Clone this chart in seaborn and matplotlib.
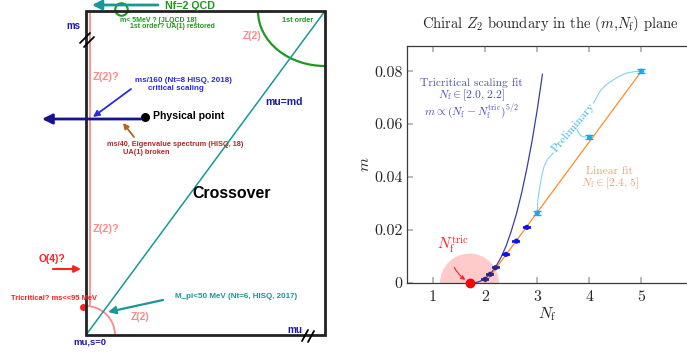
import matplotlib
matplotlib.use("Agg")
import matplotlib.pyplot as plt
import seaborn as sns
from matplotlib.patches import Rectangle, Arc

# ---- data (right panel) ----
nf_tric = 1.7

# tricritical scaling fit
fit_nf = [1.7, 1.8, 1.9, 2.0, 2.1, 2.2, 2.3, 2.4, 2.5, 2.6, 2.7, 2.8, 2.9, 3.0, 3.1]
fit_m = [0.0, 0.0001, 0.0006, 0.0017, 0.0034, 0.0060, 0.0095, 0.0139, 0.0195,
         0.0261, 0.0340, 0.0432, 0.0536, 0.0655, 0.0789]

# linear fit
lin_nf = [2.0, 5.0]
lin_m = [0.0, 0.080]

# simulation points
tric_nf = [2.0, 2.1, 2.2]
tric_m = [0.0014, 0.0033, 0.0058]
mid_nf = [2.4, 2.6, 2.8]
mid_m = [0.0108, 0.0158, 0.0210]
prel_nf = [3.0, 4.0, 5.0]
prel_m = [0.0264, 0.0550, 0.0800]
prel_err = [0.0008, 0.0008, 0.0008]

# "Preliminary" guide curve (two pieces around the label)
guide1_nf = [3.0, 3.01, 3.04, 3.08, 3.13, 3.20, 3.31]
guide1_m = [0.0264, 0.0310, 0.0352, 0.0400, 0.0440, 0.0468, 0.0492]
guide2_nf = [4.08, 4.15, 4.22, 4.33, 4.45, 4.58, 4.70, 4.85, 4.99]
guide2_m = [0.0679, 0.0706, 0.0728, 0.0750, 0.0766, 0.0781, 0.0792, 0.0798, 0.0800]
hook_nf = [3.76, 3.79, 3.83, 3.88, 3.93]
hook_m = [0.0580, 0.0568, 0.0557, 0.0552, 0.0551]

xticks = [1, 2, 3, 4, 5]
yticks = [0, 0.02, 0.04, 0.06, 0.08]
ytick_labels = ["0", "0.02", "0.04", "0.06", "0.08"]

sns.set_theme(style="ticks")
plt.rcParams["font.family"] = ["cmr10"]
plt.rcParams["mathtext.fontset"] = "cm"
plt.rcParams["axes.unicode_minus"] = False

fig = plt.figure(figsize=(6.87, 3.54), dpi=100)

# ================= left panel: schematic =================
axL = fig.add_axes([0, 0, 340 / 687, 1])
axL.set_xlim(0, 340)
axL.set_ylim(354, 0)
axL.axis("off")

SANS = "Liberation Sans"
teal = "#169898"
pink = "#ff8a8a"
green = "#1c9a1c"
navy = "#1c1c9c"
blue = "#2a2ae0"
red = "#ff2020"

axL.add_patch(Rectangle((86, 11), 239, 324, fill=False, lw=2, ec="#222222", zorder=3))
axL.plot([86, 325], [335, 11], color=teal, lw=1.1)
axL.plot([90, 90], [11, 305], color=pink, lw=1.3)
axL.add_patch(Arc((86, 335), 58, 58, theta1=-90, theta2=0, color=pink, lw=1.3))
axL.add_patch(Arc((325, 11), 134, 110, theta1=90, theta2=180, color=green, lw=1.6))

# axis breaks
for x0, y0 in [(80, 43), (84, 47)]:
    axL.plot([x0, x0 + 10], [y0, y0 - 10], color="black", lw=1.3, zorder=4)
for x0, y0 in [(302, 341), (308, 342)]:
    axL.plot([x0, x0 + 6], [y0, y0 - 11], color="black", lw=1.3, zorder=4)


def arrow(x0, y0, x1, y1, color, lw, ms):
    axL.annotate("", xy=(x1, y1), xytext=(x0, y0),
                 arrowprops=dict(arrowstyle="-|>", color=color, lw=lw,
                                 mutation_scale=ms, shrinkA=0, shrinkB=0))


arrow(158, 5, 92, 5, teal, 2.0, 14)
arrow(131, 89, 93, 117, blue, 1.3, 9)
arrow(141, 119, 42, 119, "#14148c", 2.0, 15)
arrow(134, 137, 123, 123, "#b4641e", 1.3, 8)
arrow(53, 269, 81, 269, red, 1.5, 10)
arrow(163, 300, 108, 312, teal, 1.6, 11)

axL.plot(145, 117, "o", color="black", ms=5.5)
axL.plot(121, 9, "o", mfc="none", mec=green, mew=1.5, ms=9, clip_on=False)
axL.plot(83, 307, "o", color=red, ms=4)


def label(x, y, s, size, color, ha="center"):
    axL.text(x, y, s, fontsize=size, color=color, ha=ha, va="center",
             family=SANS, fontweight="bold", fontstyle="normal")


label(165, 6, "Nf=2 QCD", 7.7, green, ha="left")
label(120, 20, "m< 5MeV ? [JLQCD 18]", 5, green, ha="left")
label(130, 26.5, "1st order? UA(1) restored", 5, green, ha="left")
label(298, 21, "1st order", 5.2, green)
label(252, 36, "Z(2)", 7.5, pink)
label(73, 26, "ms", 7, navy)
label(106, 77, "Z(2)?", 7.8, pink)
label(135, 80, "ms/160 (Nt=8 HISQ, 2018)", 5.8, blue, ha="left")
label(148, 88, "critical scaling", 5.8, blue, ha="left")
label(153, 116, "Physical point", 7.6, "black", ha="left")
label(284, 102, "mu=md", 7.6, navy)
label(107, 145, "ms/40, Eigenvalue spectrum (HISQ, 18)", 5.3, "#b42828", ha="left")
label(123, 153, "UA(1) broken", 5.3, "#b42828", ha="left")
label(232, 194, "Crossover", 11.4, "black")
label(106, 229, "Z(2)?", 7.8, pink)
label(52, 259, "O(4)?", 7.4, red)
label(11, 298, "Tricritical? ms<<95 MeV", 5.4, red, ha="left")
label(175, 296, "M_pi<50 MeV (Nt=6, HISQ, 2017)", 5.8, teal, ha="left")
label(140, 317, "Z(2)", 7.5, pink)
label(295, 330, "mu", 7.2, navy)
label(90, 342, "mu,s=0", 6.8, navy)

# ================= right panel: Z2 boundary =================
ax = fig.add_axes([407 / 687, 71 / 354, 280 / 687 + 0.002, 237 / 354])

fit_col = "#3c3ca2"
orange = "#ff8c28"
cyan = "#18aae8"

# red shaded region around tricritical point
ax.scatter([nf_tric], [0], s=1800, color="#ffcaca", edgecolor="none", zorder=1)

sns.lineplot(x=fit_nf, y=fit_m, ax=ax, color=fit_col, lw=0.9, zorder=3)
sns.lineplot(x=lin_nf, y=lin_m, ax=ax, color=orange, lw=0.9, zorder=3)
for gx, gy in [(guide1_nf, guide1_m), (guide2_nf, guide2_m), (hook_nf, hook_m)]:
    sns.lineplot(x=gx, y=gy, ax=ax, color="#80d2f2", lw=0.8, zorder=2)

ax.errorbar(tric_nf, tric_m, yerr=0.0002, fmt="none", ecolor="#28288c",
            capsize=3, capthick=1.2, elinewidth=0.8, zorder=4)
sns.scatterplot(x=tric_nf, y=tric_m, ax=ax, color="#28288c", s=14,
                edgecolor="none", zorder=5)
ax.errorbar(mid_nf, mid_m, yerr=0.0002, fmt="none", ecolor="#1010f0",
            capsize=3, capthick=1.2, elinewidth=0.8, zorder=4)
sns.scatterplot(x=mid_nf, y=mid_m, ax=ax, color="#1010f0", s=14,
                edgecolor="none", zorder=5)
ax.errorbar(prel_nf, prel_m, yerr=prel_err, fmt="none", ecolor=cyan,
            capsize=3, capthick=1.0, elinewidth=0.8, zorder=4)
sns.scatterplot(x=prel_nf, y=prel_m, ax=ax, color=cyan, s=14,
                edgecolor="none", zorder=5)
ax.plot([nf_tric], [0], "o", color="red", ms=6, clip_on=False, zorder=6)

ax.set_xlim(0.5, 5.9)
ax.set_ylim(0, 0.0895)
ax.set_xticks(xticks)
ax.set_xticklabels([str(t) for t in xticks])
ax.set_yticks(yticks)
ax.set_yticklabels(ytick_labels)
ax.tick_params(direction="in", length=4, color="#b0b0b0", labelsize=11.5,
               top=True, right=False)
ax.tick_params(axis="y", pad=3)
ax.tick_params(axis="x", pad=5)
for side in ["left", "bottom", "top"]:
    ax.spines[side].set_color("#3a3a3a")
    ax.spines[side].set_linewidth(0.9)
ax.spines["right"].set_visible(False)
ax.set_xlabel(r"$N_\mathrm{f}$", fontsize=11.5, labelpad=1)
ax.set_ylabel(r"$m$", fontsize=11.5, labelpad=2)

txt_blue = "#5050b4"
ax.text(1.745, 0.0756, "Tricritical scaling fit", color=txt_blue, fontsize=8.3,
        ha="center", va="center")
ax.text(1.745, 0.0708, r"$N_\mathrm{f} \in [2.0,\,2.2]$", color=txt_blue,
        fontsize=8.3, ha="center", va="center")
ax.text(1.745, 0.0647, r"$m \propto (N_\mathrm{f} - N_\mathrm{f}^\mathrm{tric})^{5/2}$",
        color=txt_blue, fontsize=8.3, ha="center", va="center")
ax.text(4.39, 0.0422, "Linear fit", color="#f0a070", fontsize=8.3,
        ha="center", va="center")
ax.text(4.41, 0.0377, r"$N_\mathrm{f} \in [2.4,\,5]$", color="#f0a070",
        fontsize=8.3, ha="center", va="center")
ax.text(3.70, 0.0586, "Preliminary", color="#40b8e8", fontsize=8.5,
        ha="center", va="center", rotation=50, rotation_mode="anchor")
ax.annotate(r"$N_\mathrm{f}^\mathrm{tric}$", xy=(1.64, 0.0009), xytext=(1.38, 0.0143),
            color="#ff2020", fontsize=11, ha="center", va="center",
            arrowprops=dict(arrowstyle="-|>", color="#ff2020", lw=0.8,
                            mutation_scale=6, shrinkA=6, shrinkB=1,
                            connectionstyle="arc3,rad=0.35"))

fig.text(550 / 687, 1 - 24 / 354,
         r"Chiral $Z_2$ boundary in the $(m$,$N_\mathrm{f})$ plane",
         fontsize=10.5, ha="center", va="center")

fig.savefig("out.png", dpi=100)
